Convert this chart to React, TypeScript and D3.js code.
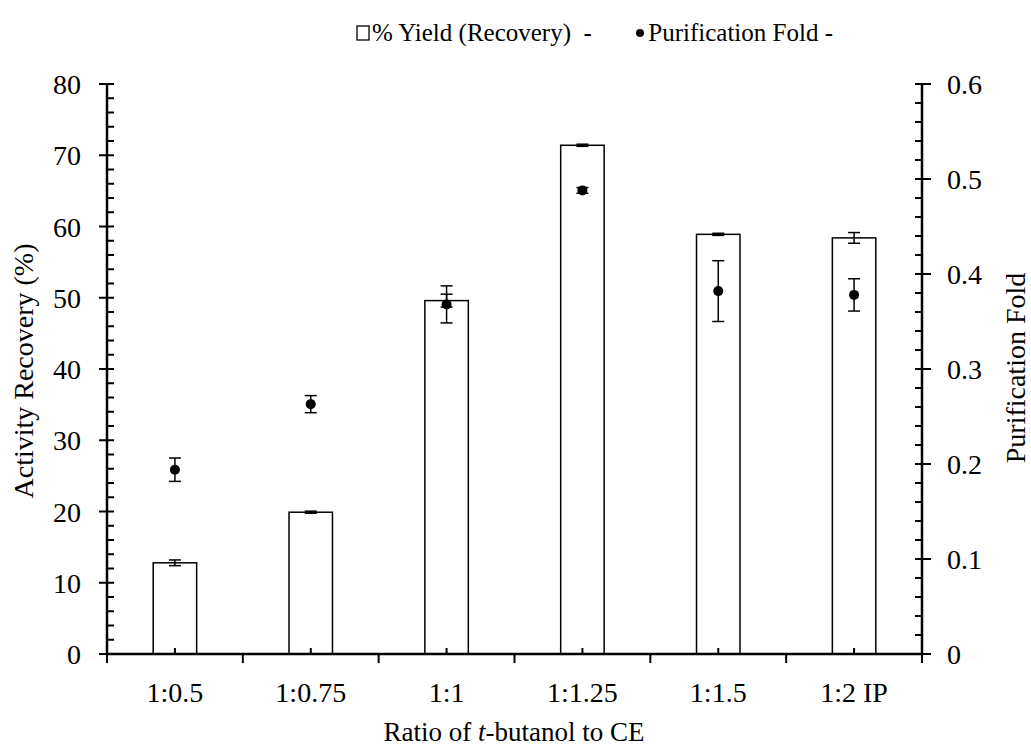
import React from 'react';
import * as d3 from 'd3';

const categories = ['1:0.5', '1:0.75', '1:1', '1:1.25', '1:1.5', '1:2 IP'];
const yieldPct = [12.8, 19.9, 49.6, 71.4, 58.9, 58.4];
const yieldErr = [0.4, 0.15, 0.9, 0.15, 0.15, 0.75];
const foldVals = [0.194, 0.263, 0.368, 0.488, 0.382, 0.378];
const foldErr = [0.0123, 0.009, 0.0195, 0.003, 0.032, 0.017];
const leftTicks = [0, 10, 20, 30, 40, 50, 60, 70, 80];
const rightTicks = [0, 0.1, 0.2, 0.3, 0.4, 0.5, 0.6];

const W = 1031;
const H = 749;
const FONT = "'Liberation Serif'";
const left = 107, right = 922, top = 84, bottom = 654;

const x = d3.scaleBand().domain(categories).range([left, right]).padding(0);
const y = d3.scaleLinear().domain([0, 80]).range([bottom, top]);
const y2 = d3.scaleLinear().domain([0, 0.6]).range([bottom, top]);
const bw = x.bandwidth() * 0.32;
const cx = (i: number) => x(categories[i])! + x.bandwidth() / 2;

function ErrBar({ x0, y0, y1 }: { x0: number; y0: number; y1: number }) {
  return (
    <g stroke="#000" strokeWidth={1.5}>
      <line x1={x0} x2={x0} y1={y0} y2={y1} />
      <line x1={x0 - 6} x2={x0 + 6} y1={y0} y2={y0} />
      <line x1={x0 - 6} x2={x0 + 6} y1={y1} y2={y1} />
    </g>
  );
}

export default function App() {
  const txt = { fontFamily: FONT, fill: '#000' };
  const minorLeft = d3.range(0, 80.01, 2);
  const minorRight = d3.range(0, 31, 1);
  return (
    <svg width={W} height={H} style={{ position: 'absolute', left: 0, top: 0, display: 'block' }}>
      <rect width={W} height={H} fill="#fff" />
      {/* legend */}
      <rect x={357} y={26} width={12} height={14} fill="#fff" stroke="#000" strokeWidth={1.3} />
      <text x={372} y={41} fontSize={25} style={{ ...txt, whiteSpace: 'pre' }}>{'% Yield (Recovery)  -'}</text>
      <circle cx={640} cy={33} r={4} fill="#000" />
      <text x={833} y={41} textAnchor="end" fontSize={25} style={txt}>Purification Fold -</text>

      {/* bars */}
      {yieldPct.map((v, i) => (
        <rect key={'b' + i} x={cx(i) - bw / 2} y={y(v)} width={bw} height={bottom - y(v)}
          fill="#fff" stroke="#000" strokeWidth={1.5} />
      ))}
      {yieldPct.map((v, i) => (
        <ErrBar key={'eb' + i} x0={cx(i)} y0={y(v + yieldErr[i])} y1={y(v - yieldErr[i])} />
      ))}
      {foldVals.map((v, i) => (
        <ErrBar key={'ef' + i} x0={cx(i)} y0={y2(v + foldErr[i])} y1={y2(v - foldErr[i])} />
      ))}
      {foldVals.map((v, i) => (
        <circle key={'d' + i} cx={cx(i)} cy={y2(v)} r={5} fill="#000" />
      ))}

      {/* x axis */}
      <g stroke="#000" strokeWidth={2}>
        <line x1={left} x2={right + 1} y1={bottom} y2={bottom} strokeWidth={2.5} />
        {d3.range(categories.length + 1).map((i) => (
          <line key={'xb' + i} x1={left + i * x.bandwidth()} x2={left + i * x.bandwidth()} y1={bottom} y2={bottom + 9} />
        ))}
        {categories.map((c, i) => (
          <line key={'xc' + i} x1={cx(i)} x2={cx(i)} y1={bottom} y2={bottom - 6} />
        ))}
      </g>
      {categories.map((c, i) => (
        <text key={'xl' + i} x={cx(i)} y={bottom + 48} textAnchor="middle" fontSize={28} style={txt}>{c}</text>
      ))}

      {/* left axis */}
      <g stroke="#000" strokeWidth={2}>
        <line x1={left} x2={left} y1={top} y2={bottom} strokeWidth={2.5} />
        {minorLeft.map((v) => (
          <line key={'ml' + v} x1={v % 10 === 0 ? left - 8 : left} x2={left + 7} y1={y(v)} y2={y(v)} />
        ))}
      </g>
      {leftTicks.map((v) => (
        <text key={'lt' + v} x={81} y={y(v) + 10} textAnchor="end" fontSize={28} style={txt}>{v}</text>
      ))}

      {/* right axis */}
      <g stroke="#000" strokeWidth={2}>
        <line x1={right} x2={right} y1={top} y2={bottom} strokeWidth={2.5} />
        {minorRight.map((k) => (
          <line key={'mr' + k} x1={right - 7} x2={k % 5 === 0 ? right + 9 : right} y1={y2(k * 0.02)} y2={y2(k * 0.02)} />
        ))}
      </g>
      {rightTicks.map((v) => (
        <text key={'rt' + v} x={947} y={y2(v) + 10} fontSize={28} style={txt}>{v === 0 ? '0' : d3.format('.1f')(v)}</text>
      ))}

      {/* titles */}
      <text transform="translate(33,371) rotate(-90)" textAnchor="middle" fontSize={28} style={txt}>Activity Recovery (%)</text>
      <text transform="translate(1025,368) rotate(-90)" textAnchor="middle" fontSize={28} style={txt}>Purification Fold</text>
      <text x={514} y={741} textAnchor="middle" fontSize={27} style={txt}>
        Ratio of <tspan fontStyle="italic">t</tspan>-butanol to CE
      </text>
    </svg>
  );
}
